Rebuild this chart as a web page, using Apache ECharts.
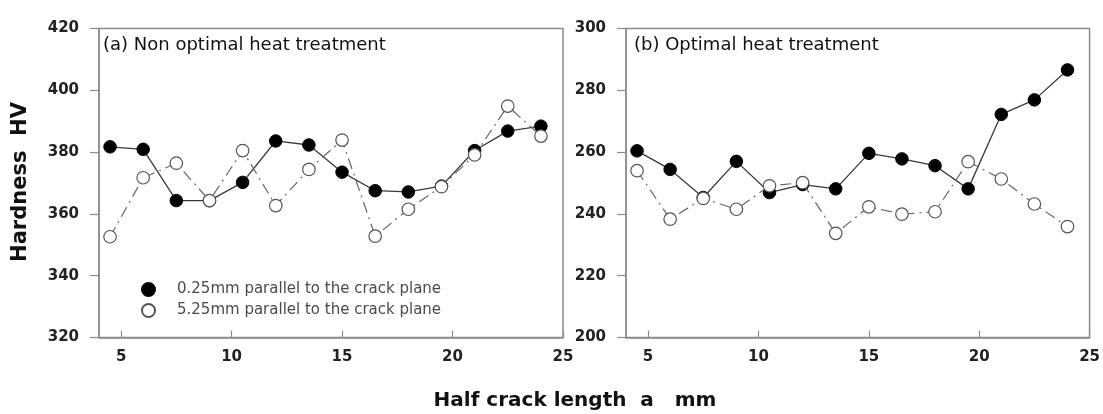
<!DOCTYPE html>
<html>
<head>
<meta charset="utf-8">
<script src="https://cdn.jsdelivr.net/npm/echarts@6/dist/echarts.min.js"></script>
<style>
html,body{margin:0;padding:0;background:#fff;}
#chart{width:1103px;height:414px;}
</style>
</head>
<body>
<div id="chart"></div>
<script>
// ---- data ----
const crackLength = [4.5, 6, 7.5, 9, 10.5, 12, 13.5, 15, 16.5, 18, 19.5, 21, 22.5, 24];
const nonOptimal_025 = [381.7, 380.9, 364.3, 364.3, 370.2, 383.6, 382.3, 373.5, 367.5, 367.1, 369.0, 380.5, 386.8, 388.4];
const nonOptimal_525 = [352.6, 371.7, 376.4, 364.3, 380.5, 362.7, 374.4, 383.9, 352.8, 361.5, 368.8, 379.1, 394.9, 385.2];
const optimal_025 = [260.4, 254.4, 245.3, 257.0, 246.9, 249.5, 248.1, 259.6, 257.8, 255.6, 248.1, 272.2, 276.9, 286.6];
const optimal_525 = [254.0, 238.3, 245.0, 241.5, 249.1, 250.1, 233.7, 242.3, 239.9, 240.7, 256.9, 251.3, 243.2, 235.9];
const xTicks = [5, 10, 15, 20, 25];
const seriesNames = ['0.25mm parallel to the crack plane', '5.25mm parallel to the crack plane'];
const panelTitles = ['(a) Non optimal heat treatment', '(b) Optimal heat treatment'];
const yLabel = 'Hardness  HV';
const xLabel = 'Half crack length  a   mm';

const pairs = (vals) => crackLength.map((x, i) => [x, vals[i]]);

const FONT = 'DejaVu Sans';
const boxColor = '#8c8c8c';

function xAxisDef(idx) {
  return {
    type: 'value', gridIndex: idx, min: 4, max: 25,
    axisLine: { show: true, onZero: false, lineStyle: { color: boxColor, width: 1.5 } },
    axisTick: { show: true, inside: true, length: 7, customValues: xTicks, lineStyle: { color: boxColor, width: 1.2 } },
    axisLabel: { customValues: xTicks, margin: 12, fontFamily: FONT, fontWeight: 'bold', fontSize: 15, color: '#222' },
    splitLine: { show: false }
  };
}
function yAxisDef(idx, min, max) {
  return {
    type: 'value', gridIndex: idx, min: min, max: max, interval: 20,
    axisLine: { show: true, lineStyle: { color: boxColor, width: 1.5 } },
    axisTick: { show: true, inside: false, length: 9, lineStyle: { color: boxColor, width: 1.2 } },
    axisLabel: { margin: 20, fontFamily: FONT, fontWeight: 'bold', fontSize: 15, color: '#222' },
    splitLine: { show: false }
  };
}
function filledSeries(idx, vals) {
  return {
    name: seriesNames[0], type: 'line', xAxisIndex: idx, yAxisIndex: idx,
    data: pairs(vals), symbol: 'circle', symbolSize: 12.5,
    itemStyle: { color: '#000', borderColor: '#000', borderWidth: 1 },
    lineStyle: { color: '#3a3a3a', width: 1.3, type: 'solid' },
    z: 2, animation: false
  };
}
function hollowSeries(idx, vals) {
  return {
    name: seriesNames[1], type: 'line', xAxisIndex: idx, yAxisIndex: idx,
    data: pairs(vals), symbol: 'circle', symbolSize: 12.5,
    itemStyle: { color: '#fff', borderColor: '#555', borderWidth: 1.2 },
    lineStyle: { color: '#666', width: 1.2, type: [11, 5, 2, 5] },
    z: 3, animation: false
  };
}

const chart = echarts.init(document.getElementById('chart'), null, { renderer: 'canvas' });
chart.setOption({
  backgroundColor: '#fff',
  animation: false,
  grid: [
    { left: 99, top: 28.5, width: 464, height: 309, show: true, borderColor: boxColor, borderWidth: 1.5, backgroundColor: 'transparent' },
    { left: 626, top: 28.5, width: 464, height: 309, show: true, borderColor: boxColor, borderWidth: 1.5, backgroundColor: 'transparent' }
  ],
  xAxis: [xAxisDef(0), xAxisDef(1)],
  yAxis: [yAxisDef(0, 320, 420), yAxisDef(1, 200, 300)],
  legend: {
    data: seriesNames, orient: 'vertical', left: 136, top: 277,
    icon: 'circle', itemWidth: 13, itemHeight: 13, itemGap: 6,
    selectedMode: false,
    textStyle: { fontFamily: FONT, fontSize: 15, color: '#4a4a4a', padding: [0, 0, 0, 17] }
  },
  graphic: [
    { type: 'text', left: 103, top: 36, style: { text: panelTitles[0], font: '18px "DejaVu Sans"', fill: '#111' } },
    { type: 'text', left: 634, top: 36, style: { text: panelTitles[1], font: '18px "DejaVu Sans"', fill: '#111' } },
    { type: 'text', x: 21, y: 182, rotation: Math.PI / 2, style: { text: yLabel, font: 'bold 21px "DejaVu Sans"', fill: '#111', align: 'center', verticalAlign: 'middle' } },
    { type: 'text', x: 575, y: 401, style: { text: xLabel, font: 'bold 20px "DejaVu Sans"', fill: '#111', align: 'center', verticalAlign: 'middle' } }
  ],
  series: [
    filledSeries(0, nonOptimal_025), hollowSeries(0, nonOptimal_525),
    filledSeries(1, optimal_025), hollowSeries(1, optimal_525)
  ]
});
</script>
</body>
</html>
